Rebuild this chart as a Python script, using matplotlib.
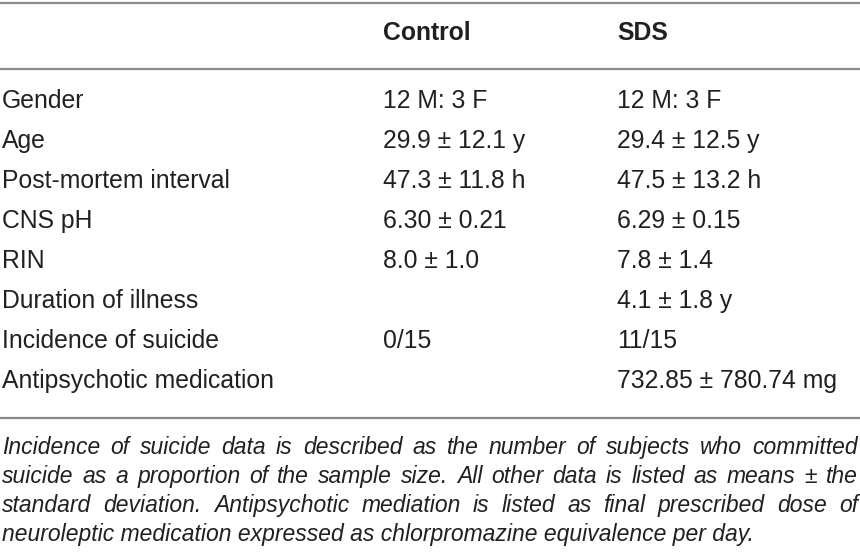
import matplotlib
matplotlib.use("Agg")
import matplotlib.pyplot as plt

plt.rcParams["font.family"] = ["Liberation Sans", "DejaVu Sans"]

headers = ["", "Control", "SDS"]
labels = [
    "Gender",
    "Age",
    "Post-mortem interval",
    "CNS pH",
    "RIN",
    "Duration of illness",
    "Incidence of suicide",
    "Antipsychotic medication",
]
control = ["12 M: 3 F", "29.9 ± 12.1 y", "47.3 ± 11.8 h", "6.30 ± 0.21", "8.0 ± 1.0", "", "0/15", ""]
sds = ["12 M: 3 F", "29.4 ± 12.5 y", "47.5 ± 13.2 h", "6.29 ± 0.15", "7.8 ± 1.4", "4.1 ± 1.8 y", "11/15",
       "732.85 ± 780.74 mg"]
footnote = [
    "Incidence of suicide data is described as the number of subjects who committed",
    "suicide as a proportion of the sample size. All other data is listed as means ± the",
    "standard deviation. Antipsychotic mediation is listed as final prescribed dose of",
    "neuroleptic medication expressed as chlorpromazine equivalence per day.",
]

fig = plt.figure(figsize=(8.6, 5.6), dpi=100)
ax = fig.add_axes([0, 0, 1, 1])
ax.set_xlim(0, 860)
ax.set_ylim(560, 0)
ax.axis("off")

col_x = [2, 383, 617]
fs = 17.8
ink = "#231f20"
rule = dict(color="#8a8a8a", lw=1.6)

ax.plot([0, 860], [3, 3], **rule)
ax.plot([0, 860], [69, 69], **rule)
ax.plot([0, 860], [418, 418], **rule)

for x, h in zip(col_x, headers):
    ax.text(x, 40, h, fontsize=fs, fontweight="bold", va="baseline", ha="left", color=ink)

for i, (lab, c, s) in enumerate(zip(labels, control, sds)):
    y = 108 + 40 * i
    ax.text(col_x[0], y, lab, fontsize=fs, va="baseline", ha="left", color=ink)
    ax.text(col_x[1], y, c, fontsize=fs, va="baseline", ha="left", color=ink)
    ax.text(col_x[2], y, s, fontsize=fs, va="baseline", ha="left", color=ink)

# footnote, justified except the last line
fig.canvas.draw()
renderer = fig.canvas.get_renderer()
left, right = 2, 858
ffs = 16.5
for j, line in enumerate(footnote):
    y = 454 + 29 * j
    words = line.split(" ")
    if j == len(footnote) - 1:
        ax.text(left, y, line, fontsize=ffs, style="italic", va="baseline", ha="left", color=ink)
        continue
    widths = []
    objs = []
    for w in words:
        t = ax.text(0, y, w, fontsize=ffs, style="italic", va="baseline", ha="left", color=ink)
        bb = t.get_window_extent(renderer)
        widths.append(bb.width)
        objs.append(t)
    gap = (right - left - sum(widths)) / (len(words) - 1)
    x = left
    for t, w in zip(objs, widths):
        t.set_x(x)
        x += w + gap

fig.savefig("out.png", dpi=100)
